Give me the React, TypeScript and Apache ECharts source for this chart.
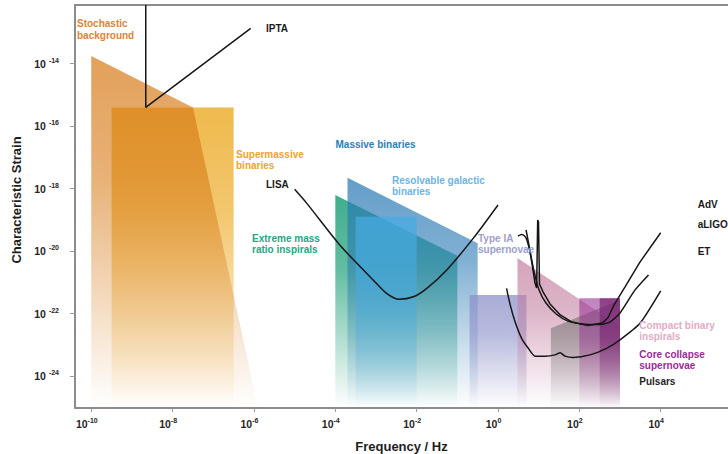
import React, { useEffect, useRef } from "react";
import * as echarts from "echarts";

// Axis ranges (log10 of frequency in Hz, log10 of characteristic strain)
const X_MIN = -10.4;
const X_MAX = 5.95;
const Y_MIN = -25.02;
const Y_MAX = -12.12;
const xTickExponents = [-10, -8, -6, -4, -2, 0, 2, 4];
const yTickExponents = [-24, -22, -20, -18, -16, -14];

// Source regions: vertices as [log10 f, log10 h]
const stochasticBackground = [[-10, -13.75], [-7.5, -15.4], [-5.9, Y_MIN], [-10, Y_MIN]];
const supermassiveBinaries = [[-9.5, -15.4], [-6.5, -15.4], [-6.5, Y_MIN], [-9.5, Y_MIN]];
const extremeMassRatio = [[-4, -18.2], [-1, -20.15], [-1, Y_MIN], [-4, Y_MIN]];
const massiveBinaries = [[-3.7, -17.65], [-0.5, -19.75], [-0.5, Y_MIN], [-3.7, Y_MIN]];
const galacticBinaries = [[-3.5, -18.9], [-2, -18.9], [-2, Y_MIN], [-3.5, Y_MIN]];
const typeIaSupernovae = [[-0.7, -21.4], [0.7, -21.4], [0.7, Y_MIN], [-0.7, Y_MIN]];
const compactBinaries = [[0.48, -20.22], [3, -22.4], [3, Y_MIN], [0.48, Y_MIN]];
const pulsars = [[1.3, -22.47], [3, -21.56], [3, Y_MIN], [1.3, Y_MIN]];
const coreCollapse = [[2, -21.51], [3, -21.51], [3, Y_MIN], [2, Y_MIN]];
const coreCollapseInner = [[2.5, -21.51], [3, -21.51], [3, Y_MIN], [2.5, Y_MIN]];

// Detector sensitivity curves: [log10 f, log10 h]
const iptaCurve = [[-8.66, Y_MAX], [-8.66, -15.4], [-6.08, -12.87]];
const lisaCurve = [
  [-5, -18.02], [-4.7, -18.47], [-3.89, -19.8], [-3.07, -20.92], [-2.74, -21.35],
  [-2.43, -21.54], [-2.08, -21.46], [-1.75, -21.19], [-1.26, -20.6], [-0.61, -19.59], [0, -18.52],
];
const advCurve = [
  [0.69, -19.32], [0.76, -19.8], [0.84, -20.44], [0.91, -21.02], [0.95, -21.18],
  [0.976, -19.0], [0.996, -19.07], [1.02, -21.05], [1.11, -21.31], [1.28, -21.69],
  [1.53, -22.04], [1.82, -22.27], [2.21, -22.38], [2.56, -22.3], [2.7, -22.14],
  [2.85, -21.73], [3.12, -21.15], [3.49, -20.35], [4.0, -19.41],
];
const aligoCurve = [
  [0.49, -19.52], [0.58, -19.47], [0.66, -19.52], [0.71, -19.64], [0.79, -20.03],
  [0.89, -20.67], [1.01, -21.24], [1.18, -21.66], [1.43, -22.01], [1.72, -22.24],
  [2.07, -22.33], [2.46, -22.35], [2.75, -22.27], [3.0, -21.98], [3.37, -21.24], [3.7, -20.76],
];
const etCurve = [
  [0.21, -21.19], [0.3, -21.72], [0.42, -22.26], [0.58, -22.79], [0.74, -23.1],
  [0.91, -23.36], [1.16, -23.36], [1.4, -23.32], [1.53, -23.25], [1.65, -23.36],
  [1.85, -23.4], [2.26, -23.32], [2.67, -23.11], [3.0, -22.84], [3.49, -22.31], [4.0, -21.27],
];

const FONT = '"Liberation Sans", Arial, Helvetica, sans-serif';

const regionStyles = [
  { data: supermassiveBinaries, rgb: "238,180,62", alpha: 0.92 },
  { data: stochasticBackground, rgb: "214,120,20", alpha: 0.7 },
  { data: extremeMassRatio, rgb: "30,160,120", alpha: 0.85 },
  { data: massiveBinaries, rgb: "40,120,180", alpha: 0.72 },
  { data: galacticBinaries, rgb: "70,170,225", alpha: 0.75 },
  { data: typeIaSupernovae, rgb: "140,145,200", alpha: 0.75 },
  { data: compactBinaries, rgb: "195,125,160", alpha: 0.7 },
  { data: pulsars, rgb: "100,100,100", alpha: 0.55 },
  { data: coreCollapse, rgb: "150,50,145", alpha: 0.6 },
  { data: coreCollapseInner, rgb: "110,20,100", alpha: 0.6 },
];

const curves = [
  { data: iptaCurve, smooth: false },
  { data: lisaCurve, smooth: 0.3 },
  { data: advCurve, smooth: false },
  { data: aligoCurve, smooth: 0.2 },
  { data: etCurve, smooth: 0.2 },
];

const labels = [
  { text: "Stochastic", x: 77, y: 23.5, color: "#dc8434" },
  { text: "background", x: 77, y: 35.5, color: "#dc8434" },
  { text: "IPTA", x: 266, y: 28.3, color: "#1a1a1a" },
  { text: "Supermassive", x: 236, y: 154, color: "#eba52c" },
  { text: "binaries", x: 236, y: 165.5, color: "#eba52c" },
  { text: "LISA", x: 266, y: 184, color: "#1a1a1a" },
  { text: "Massive binaries", x: 335.5, y: 144, color: "#2a7fb8" },
  { text: "Resolvable galactic", x: 392, y: 180, color: "#6cb5e6" },
  { text: "binaries", x: 392, y: 191, color: "#6cb5e6" },
  { text: "Extreme mass", x: 252, y: 238.3, color: "#27a585" },
  { text: "ratio inspirals", x: 252, y: 249.3, color: "#27a585" },
  { text: "Type IA", x: 478, y: 238, color: "#9c9ecf" },
  { text: "supernovae", x: 478, y: 249.3, color: "#9c9ecf" },
  { text: "Compact binary", x: 639.3, y: 325.7, color: "#e2abc6" },
  { text: "inspirals", x: 639.3, y: 336.7, color: "#e2abc6" },
  { text: "Core collapse", x: 639.3, y: 354, color: "#9b2a97" },
  { text: "supernovae", x: 639.3, y: 365, color: "#9b2a97" },
  { text: "Pulsars", x: 639.3, y: 381.7, color: "#1f1f1f" },
  { text: "AdV", x: 697.7, y: 204.3, color: "#1a1a1a" },
  { text: "aLIGO", x: 697.7, y: 224.3, color: "#1a1a1a" },
  { text: "ET", x: 697.7, y: 251, color: "#1a1a1a" },
];

function gradient(rgb: string, a: number) {
  return {
    type: "linear",
    x: 0,
    y: 0,
    x2: 0,
    y2: 1,
    colorStops: [
      { offset: 0, color: `rgba(${rgb},${a})` },
      { offset: 0.35, color: `rgba(${rgb},${a * 0.82})` },
      { offset: 1, color: `rgba(${rgb},0)` },
    ],
  };
}

export default function App() {
  const ref = useRef<HTMLDivElement>(null);

  useEffect(() => {
    if (!ref.current) return;
    const chart = echarts.init(ref.current, undefined, { renderer: "svg" });

    const regionSeries = regionStyles.map((r) => ({
      type: "custom",
      coordinateSystem: "cartesian2d",
      data: r.data,
      silent: true,
      z: 1,
      renderItem: (params: any, api: any) => {
        if (params.dataIndex !== 0) return null;
        const points = r.data.map((v) => api.coord(v));
        return {
          type: "polygon",
          shape: { points },
          style: { fill: gradient(r.rgb, r.alpha) },
        };
      },
    }));

    const lineSeries = curves.map((c) => ({
      type: "line",
      data: c.data,
      smooth: c.smooth,
      symbol: "none",
      showSymbol: false,
      silent: true,
      clip: true,
      z: 5,
      lineStyle: { color: "#161616", width: 1.5 },
    }));

    const rich = {
      b: { fontFamily: FONT, fontSize: 10.5, fontWeight: "bold", color: "#262626", lineHeight: 14 },
      s: { fontFamily: FONT, fontSize: 7, fontWeight: "bold", color: "#262626", lineHeight: 9, verticalAlign: "top" },
      p: { width: 9, fontSize: 7, lineHeight: 9 },
    };

    chart.setOption({
      animation: false,
      grid: { left: 75, top: 5, right: 10, bottom: 46 },
      xAxis: [
        {
          type: "value",
          min: X_MIN,
          max: X_MAX,
          position: "bottom",
          axisLine: { show: true, onZero: false, lineStyle: { color: "#8c8c8c", width: 2 } },
          axisTick: { show: true, customValues: xTickExponents, length: 4, lineStyle: { color: "#9a9a9a" } },
          axisLabel: {
            customValues: xTickExponents,
            margin: 9,
            formatter: (v: number) => `{b|10}{s|${v}}{p| }`,
            rich,
          },
          splitLine: { show: false },
        },
        {
          type: "value",
          min: X_MIN,
          max: X_MAX,
          position: "top",
          axisLine: { show: true, onZero: false, lineStyle: { color: "#8c8c8c", width: 2 } },
          axisTick: { show: false },
          axisLabel: { show: false },
          splitLine: { show: false },
        },
      ],
      yAxis: {
        type: "value",
        min: Y_MIN,
        max: Y_MAX,
        axisLine: { show: true, onZero: false, lineStyle: { color: "#8c8c8c", width: 2 } },
        axisTick: { show: true, customValues: yTickExponents, length: 5, lineStyle: { color: "#9a9a9a" } },
        axisLabel: {
          customValues: yTickExponents,
          margin: 16,
          formatter: (v: number) => `{b|10 }{s|${v}}`,
          rich,
        },
        splitLine: { show: false },
      },
      graphic: [
        ...labels.map((l) => ({
          type: "text",
          x: l.x,
          y: l.y,
          silent: true,
          z: 10,
          style: {
            text: l.text,
            fill: l.color,
            font: `bold 10px ${FONT}`,
            textAlign: "left",
            textVerticalAlign: "middle",
            align: "left",
            verticalAlign: "middle",
          },
        })),
        {
          type: "text",
          x: 401.5,
          y: 446,
          silent: true,
          style: {
            text: "Frequency / Hz",
            fill: "#1e1e1e",
            font: `bold 13px ${FONT}`,
            textAlign: "center",
            textVerticalAlign: "middle",
            align: "center",
            verticalAlign: "middle",
          },
        },
        {
          type: "text",
          x: 16,
          y: 200,
          rotation: Math.PI / 2,
          silent: true,
          style: {
            text: "Characteristic Strain",
            fill: "#1e1e1e",
            font: `bold 13px ${FONT}`,
            textAlign: "center",
            textVerticalAlign: "middle",
            align: "center",
            verticalAlign: "middle",
          },
        },
      ],
      series: [...regionSeries, ...lineSeries],
    });

    return () => chart.dispose();
  }, []);

  return (
    <div style={{ position: "fixed", left: 0, top: 0, width: 728, height: 454, overflow: "hidden", background: "#fff" }}>
      <div ref={ref} style={{ width: 750, height: 454 }} />
    </div>
  );
}
